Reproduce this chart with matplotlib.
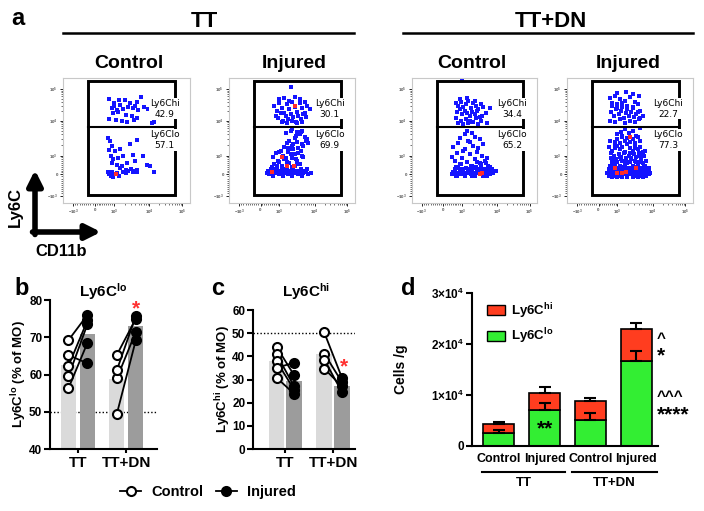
import numpy as np
import matplotlib.pyplot as plt
from matplotlib.patches import Rectangle, Patch
from matplotlib.lines import Line2D
from matplotlib.transforms import blended_transform_factory

plt.rcParams.update({
    "font.family": "Liberation Sans",
    "font.weight": "bold",
    "axes.labelweight": "bold",
    "axes.titleweight": "bold",
    "mathtext.fontset": "custom",
    "mathtext.rm": "Liberation Sans:bold",
    "mathtext.bf": "Liberation Sans:bold",
    "mathtext.it": "Liberation Sans:bold",
    "mathtext.default": "bf",
})

# =============================================================================
# DATA - panel a (FACS dots, display units 0-100 inside each plot)
# =============================================================================
tt_ctrl_x = [36.5, 40.4, 44.9, 48.8, 52.8, 56.7, 61.2, 63.8, 38.3, 42.8, 47.5, 51.5, 55.4, 59.3, 67.2,
             39.1, 43.6, 49.6, 54.1, 58.5, 36.5, 41.7, 46.2, 50.7, 56.2, 69.8, 71.7, 40.2, 44.4, 58.0,
             35.7, 37.0, 38.3, 36.5, 41.0, 44.9, 52.8, 58.0, 37.5, 39.1, 43.0, 47.5, 55.4, 38.3, 42.3,
             46.2, 50.1, 56.7, 62.7, 66.4, 44.9, 49.6, 53.3, 58.0, 68.5, 71.7,
             35.7, 36.5, 37.5, 38.6, 39.6, 42.3, 43.8, 47.5, 49.6, 51.5, 54.9, 56.7, 58.5, 37.5, 39.1, 41.0]
tt_ctrl_y = [83.2, 80.0, 78.7, 82.1, 80.0, 77.9, 84.8, 76.8, 76.0, 74.7, 75.2, 76.8, 76.0, 74.7, 75.2,
             72.0, 72.5, 70.7, 69.3, 68.0, 67.2, 66.7, 65.3, 64.5, 66.7, 64.0, 64.5, 77.9, 82.1, 81.1,
             52.0, 49.3, 45.3, 42.7, 41.3, 43.2, 47.5, 50.7, 37.9, 35.2, 36.0, 37.3, 38.7, 32.0, 30.7,
             29.3, 32.0, 33.3, 37.3, 30.7, 28.0, 26.7, 27.2, 26.1, 29.3, 24.5,
             24.5, 23.5, 22.4, 25.1, 23.5, 24.0, 21.9, 25.1, 24.0, 25.6, 24.5, 25.3, 25.1, 21.3, 20.8, 22.9]
tt_ctrl_red_x = [41.5]
tt_ctrl_red_y = [23.2]

tt_inj_x = [36, 38, 40, 42, 44, 46, 48, 50, 52, 54, 56, 58, 60, 62,
            37, 39, 41, 43, 45, 47, 49, 51, 53, 55, 57, 59, 61,
            40, 44, 48, 52, 56, 60, 42, 46, 50, 54, 58, 49, 64,
            30, 32, 34, 35, 37, 38, 40, 41, 43, 44, 46, 47, 49, 50, 52, 53, 55, 56, 58, 59, 61, 63, 65,
            33, 36, 39, 42, 45, 48, 51, 54, 57, 60, 62, 31,
            34, 36, 38, 40, 42, 44, 46, 48, 50, 52, 54, 56, 58,
            35, 37, 39, 41, 43, 45, 47, 49, 51, 53, 55, 57, 59,
            38, 42, 46, 50, 54, 40, 44, 48, 52,
            44, 46, 48, 50, 52, 54, 56, 58, 60, 62, 45, 49, 53, 57, 61, 47, 51, 55, 59, 63, 50, 54, 58]
tt_inj_y = [78, 74, 80, 76, 72, 79, 75, 81, 77, 73, 80, 76, 72, 78,
            70, 68, 72, 66, 70, 67, 71, 69, 65, 70, 67, 71, 69,
            83, 84, 82, 85, 83, 81, 65, 64, 66, 64, 65, 93, 75,
            24, 23, 25, 22, 24, 26, 23, 25, 22, 24, 26, 23, 25, 22, 24, 26, 23, 25, 22, 24, 25, 23, 24,
            27, 27, 26, 27, 27, 26, 27, 26, 27, 26, 27, 26,
            29, 31, 28, 33, 30, 35, 29, 32, 36, 30, 34, 31, 38,
            37, 40, 34, 42, 38, 36, 41, 39, 43, 35, 40, 42, 37,
            30, 28, 33, 29, 31, 41, 35, 43, 39,
            45, 48, 50, 46, 52, 49, 55, 47, 53, 51, 56, 58, 54, 57, 50, 44, 47, 44, 46, 48, 59, 57, 58]
tt_inj_red_x = [42, 45.8, 51.5, 52, 34.4]
tt_inj_red_y = [36.8, 29.3, 29.9, 77.3, 24.5]

dn_ctrl_x = [35, 37, 39, 41, 43, 45, 47, 49, 51, 53, 55, 57, 36, 38, 40, 42, 44, 46, 48, 50, 52, 54,
             35, 39, 43, 47, 51, 55, 59, 62, 37, 41, 45, 49, 53, 38, 44, 50, 56, 60, 46, 40,
             32, 33, 35, 36, 38, 39, 41, 42, 44, 45, 47, 48, 50, 51, 53, 54, 56, 57, 59, 60, 62, 63, 65, 67,
             34, 37, 40, 43, 46, 49, 52, 55, 58, 61, 64, 36, 42, 48, 54, 60,
             32, 34, 36, 38, 40, 42, 44, 46, 48, 50, 52, 54, 56, 58, 60,
             33, 37, 41, 45, 49, 53, 57, 61, 35, 39, 43, 47, 51, 55, 59, 38, 42, 46, 50, 54, 44, 48, 52, 62]
dn_ctrl_y = [80, 78, 81, 77, 79, 82, 76, 80, 78, 75, 79, 77, 73, 75, 71, 74, 72, 70, 73, 71, 74, 69,
             68, 66, 67, 65, 68, 66, 72, 76, 64, 63, 64, 65, 63, 83, 84, 82, 70, 64, 66, 99,
             23, 25, 22, 24, 26, 23, 25, 22, 24, 26, 23, 25, 22, 24, 26, 23, 25, 22, 24, 26, 23, 25, 24, 26,
             27, 28, 27, 28, 27, 28, 27, 28, 27, 28, 27, 22, 23, 22, 23, 22,
             37, 34, 40, 31, 36, 43, 33, 39, 30, 35, 41, 32, 38, 34, 36,
             45, 48, 42, 50, 46, 44, 47, 30, 29, 31, 28, 30, 29, 31, 32, 52, 55, 49, 53, 51, 58, 56, 33, 29]
dn_ctrl_red_x = [54.7, 56]
dn_ctrl_red_y = [23.5, 24]

dn_inj_x = [34, 36, 38, 40, 42, 44, 46, 48, 50, 52, 54, 56, 58, 35, 37, 39, 41, 43, 45, 47, 49, 51, 53, 55, 57,
            34, 38, 42, 46, 50, 54, 58, 36, 40, 44, 48, 52, 56, 40, 47, 52, 57, 60,
            32, 33, 34, 35, 36, 37, 38, 39, 40, 41, 42, 43, 44, 45, 46, 47, 48, 49, 50, 51, 52, 53, 54,
            55, 56, 57, 58, 59, 60, 61, 62, 63, 64, 65, 66,
            33, 35, 37, 39, 41, 43, 45, 47, 49, 51, 53, 55, 57, 59, 61, 63, 65, 36, 40, 44, 48, 52, 56, 60,
            34, 36, 38, 40, 42, 44, 46, 48, 50, 52, 54, 56, 58, 60, 62,
            35, 37, 39, 41, 43, 45, 47, 49, 51, 53, 55, 57, 59, 61,
            36, 38, 40, 42, 44, 46, 48, 50, 52, 54, 56, 58, 60,
            38, 40, 42, 44, 46, 48, 50, 52, 54, 56, 58,
            40, 43, 46, 49, 52, 55, 58, 33, 34, 35, 36,
            37, 41, 45, 49, 53, 57, 61, 65, 39, 43, 47, 51, 55, 59, 63,
            50, 54, 58, 62, 46, 42, 38, 44]
dn_inj_y = [84, 80, 86, 79, 83, 77, 82, 78, 85, 76, 81, 79, 74, 73, 70, 75, 71, 74, 68, 72, 70, 73, 69, 71, 67,
            66, 65, 67, 64, 66, 65, 68, 78, 76, 80, 75, 77, 73, 88, 89, 87, 86, 70,
            24, 22, 25, 23, 26, 24, 22, 25, 23, 26, 24, 22, 25, 23, 26, 24, 22, 25, 23, 26, 24, 22, 25,
            23, 26, 24, 22, 25, 23, 26, 24, 22, 25, 23, 24,
            27, 28, 27, 28, 27, 28, 27, 28, 27, 28, 27, 28, 27, 28, 27, 28, 27, 21, 21, 21, 21, 21, 21, 21,
            30, 32, 31, 33, 30, 34, 31, 32, 33, 30, 34, 31, 33, 32, 30,
            36, 38, 35, 39, 37, 40, 36, 38, 35, 39, 37, 40, 36, 38,
            42, 44, 46, 43, 45, 41, 47, 44, 42, 46, 43, 45, 41,
            49, 51, 48, 53, 50, 52, 49, 51, 48, 53, 50,
            55, 57, 59, 56, 58, 54, 60, 45, 50, 40, 35,
            29, 28, 29, 28, 29, 28, 29, 28, 33, 35, 34, 36, 33, 35, 34,
            40, 44, 38, 42, 50, 37, 47, 54]
dn_inj_red_x = [50, 38, 47, 43.4, 55, 40]
dn_inj_red_y = [53, 28, 25, 24, 28, 24]

gate_hi = ["42.9", "30.1", "34.4", "22.7"]
gate_lo = ["57.1", "69.9", "65.2", "77.3"]
flow_tick_labels = [r"$-10^3$", "0", r"$10^3$", r"$10^4$", r"$10^5$"]

# =============================================================================
# DATA - panels b, c (% of MO)
# =============================================================================
groups = ["TT", "TT+DN"]
lo_tt_ctrl = [69.2, 65.2, 62.3, 59.5, 56.3]
lo_tt_inj = [76.0, 63.0, 74.5, 73.5, 68.5]
lo_dn_ctrl = [49.5, 59.0, 61.2, 65.3]
lo_dn_inj = [69.3, 71.5, 75.8, 75.0]
lo_bars = [62.5, 71.0, 58.8, 73.0]

hi_tt_ctrl = [44.1, 40.9, 37.9, 35.0, 30.8]
hi_tt_inj = [31.8, 27.0, 25.6, 37.3, 23.8]
hi_dn_ctrl = [50.3, 41.2, 38.6, 34.7]
hi_dn_inj = [30.8, 28.9, 24.6, 27.0]
hi_bars = [37.8, 29.2, 41.2, 27.0]

# =============================================================================
# DATA - panel d (cells / g)
# =============================================================================
d_labels = ["Control", "Injured", "Control", "Injured"]
d_lo = [2570, 7040, 5070, 16600]
d_hi = [1710, 3420, 3730, 6360]
d_lo_err = [530, 1460, 1430, 1950]
d_tot_err = [460, 1040, 600, 1140]

# =============================================================================
# STYLE
# =============================================================================
W, H = 704, 511
LIGHT = "#dadada"
DARK = "#9c9c9c"
RED = "#ff3d1f"
GREEN = "#33ee33"
STAR_RED = "#ff3030"


def rect(l, t, r, b):
    return [l / W, 1 - b / H, (r - l) / W, (b - t) / H]


fig = plt.figure(figsize=(W / 100, H / 100), dpi=100)

# overlay in pixel coordinates for headers / panel letters
ov = fig.add_axes([0, 0, 1, 1], zorder=-1)
ov.set_xlim(0, W)
ov.set_ylim(H, 0)
ov.axis("off")

# =============================================================================
# PANEL a
# =============================================================================
FX = [8, 25, 40, 68, 94]
FY = [6, 23, 38, 66, 91]


def minor_positions(t):
    out = []
    for a, b in [(t[2], t[3]), (t[3], t[4])]:
        out += [a + (b - a) * np.log10(k) for k in range(2, 10)]
    out += [t[1] + (t[2] - t[1]) * k / 10 for k in range(1, 10)]
    out += [t[1] - (t[1] - t[0]) * k / 10 for k in range(1, 10)]
    return out


flow_sets = [
    (63, 190, tt_ctrl_x, tt_ctrl_y, tt_ctrl_red_x, tt_ctrl_red_y),
    (229, 355, tt_inj_x, tt_inj_y, tt_inj_red_x, tt_inj_red_y),
    (412, 537, dn_ctrl_x, dn_ctrl_y, dn_ctrl_red_x, dn_ctrl_red_y),
    (567, 693, dn_inj_x, dn_inj_y, dn_inj_red_x, dn_inj_red_y),
]
for i, (l, r, xs, ys, rx, ry) in enumerate(flow_sets):
    ax = fig.add_axes(rect(l, 78, r, 203))
    ax.set_xlim(0, 100)
    ax.set_ylim(0, 100)
    ax.scatter(xs, ys, s=6, marker="s", color="#1414ff", linewidths=0, zorder=2)
    ax.scatter(rx, ry, s=6, marker="s", color="#ff2a2a", linewidths=0, zorder=2)
    ax.add_patch(Rectangle((20, 6.5), 68.5, 91.2, fill=False, lw=2.1, ec="black", zorder=3))
    ax.plot([20, 88.5], [61, 61], color="black", lw=1.5, zorder=3)
    ax.text(80, 75.5, "Ly6Chi\n" + gate_hi[i], ha="center", va="center", fontsize=6.5,
            family="DejaVu Sans", fontweight="normal", linespacing=1.3, zorder=4,
            bbox=dict(fc="white", ec="none", pad=0.6))
    ax.text(80, 50.5, "Ly6Clo\n" + gate_lo[i], ha="center", va="center", fontsize=6.5,
            family="DejaVu Sans", fontweight="normal", linespacing=1.3, zorder=4,
            bbox=dict(fc="white", ec="none", pad=0.6))
    for s in ax.spines.values():
        s.set_color("#c8c8c8")
        s.set_linewidth(0.8)
    ax.set_xticks(FX)
    ax.set_yticks(FY)
    ax.set_xticklabels(flow_tick_labels)
    ax.set_yticklabels(flow_tick_labels)
    ax.set_xticks(minor_positions(FX), minor=True)
    ax.set_yticks(minor_positions(FY), minor=True)
    ax.tick_params(which="major", length=2.2, width=0.6, labelsize=3.2, labelcolor="#555555", pad=1.5)
    ax.tick_params(which="minor", length=1.2, width=0.4)

ov.text(18, 25, "a", fontsize=17, ha="center", va="baseline")
ov.text(204, 27, "TT", fontsize=16, ha="center", va="baseline")
ov.text(551, 27, "TT+DN", fontsize=16, ha="center", va="baseline")
ov.plot([63, 354], [33, 33], color="black", lw=1.8)
ov.plot([403, 693], [33, 33], color="black", lw=1.8)
for xc, txt in [(129, "Control"), (294, "Injured"), (472, "Control"), (628, "Injured")]:
    ov.text(xc, 68, txt, fontsize=14, ha="center", va="baseline")

# Ly6C / CD11b arrows
ov.annotate("", xy=(35, 170), xytext=(35, 234.5),
            arrowprops=dict(arrowstyle="-|>,head_length=0.9,head_width=0.45", lw=4, color="black",
                            shrinkA=0, shrinkB=0))
ov.annotate("", xy=(101, 232), xytext=(32.5, 232),
            arrowprops=dict(arrowstyle="-|>,head_length=0.9,head_width=0.45", lw=4, color="black",
                            shrinkA=0, shrinkB=0))
ov.text(15, 207, "Ly6C", fontsize=12, rotation=90, ha="center", va="center")
ov.text(61, 251, "CD11b", fontsize=12, ha="center", va="center")


# =============================================================================
# PANELS b, c
# =============================================================================
def paired_panel(box, pad, ylim, yticks, pos, width, bars, ctrls, injs, ylabel, star_xy, lab_x):
    ax = fig.add_axes(rect(*box))
    ax.set_ylim(*ylim)
    ax.set_xlim(pos[0] - pad[0], pos[3] + pad[1])
    ax.axhline(50, ls=(0, (1, 1.5)), color="black", lw=1.0, zorder=0.5)
    ax.bar(pos, bars, width=width, color=[LIGHT, DARK, LIGHT, DARK], zorder=1)
    for g, (cvals, ivals) in enumerate(zip(ctrls, injs)):
        pc, pi = pos[2 * g], pos[2 * g + 1]
        for c, v in zip(cvals, ivals):
            ax.plot([pc, pi], [c, v], color="black", lw=1.3, zorder=3)
        ax.plot([pc] * len(cvals), cvals, "o", ms=6.5, mfc="white", mec="black", mew=1.5, zorder=4)
        ax.plot([pi] * len(ivals), ivals, "o", ms=6.5, mfc="black", mec="black", mew=1.5, zorder=4)
    ax.text(star_xy[0], star_xy[1], "*", color=STAR_RED, fontsize=15, ha="center", va="center")
    for s in ["top", "right"]:
        ax.spines[s].set_visible(False)
    for s in ["left", "bottom"]:
        ax.spines[s].set_linewidth(1.5)
    ax.set_yticks(yticks)
    ax.set_xticks([(pos[0] + pos[1]) / 2, (pos[2] + pos[3]) / 2])
    ax.set_xticklabels(groups, fontsize=11)
    ax.tick_params(axis="y", length=4, width=1.5, labelsize=8.5, pad=1.5)
    ax.tick_params(axis="x", length=3, width=1.5, pad=2)
    ax.set_ylabel(ylabel, fontsize=9.5)
    ax.yaxis.set_label_coords(lab_x, 0.5)
    return ax


ax_b = paired_panel((50, 300, 157, 449), (0.97, 1.11), (40, 80), [40, 50, 60, 70, 80],
                    [0, 1, 2.55, 3.55], 0.79, lo_bars, [lo_tt_ctrl, lo_dn_ctrl], [lo_tt_inj, lo_dn_inj],
                    r"Ly6C$^{lo}$ (% of MO)", (3.55, 77.5), -0.195)
ax_c = paired_panel((253, 310, 355, 449), (1.33, 0.74), (0, 60), [0, 10, 20, 30, 40, 50, 60],
                    [0, 1, 2.7, 3.7], 0.88, hi_bars, [hi_tt_ctrl, hi_dn_ctrl], [hi_tt_inj, hi_dn_inj],
                    r"Ly6C$^{hi}$ (% of MO)", (3.8, 35.5), -0.2)

ov.text(22, 295, "b", fontsize=17, ha="center", va="baseline")
ov.text(218, 295, "c", fontsize=17, ha="center", va="baseline")
ov.text(408, 295, "d", fontsize=17, ha="center", va="baseline")
ov.text(103, 297, r"Ly6C$^{lo}$", fontsize=11, ha="center", va="baseline")
ov.text(306, 297, r"Ly6C$^{hi}$", fontsize=11, ha="center", va="baseline")

leg_handles = [Line2D([], [], color="black", lw=1.3, marker="o", ms=6.5, mfc="white", mec="black", mew=1.5),
               Line2D([], [], color="black", lw=1.3, marker="o", ms=6.5, mfc="black", mec="black", mew=1.5)]
fig.legend(leg_handles, ["Control", "Injured"], loc="center", bbox_to_anchor=(208 / W, 1 - 492 / H),
           ncol=2, frameon=False, fontsize=10.5, handlelength=1.4, handletextpad=0.7, columnspacing=0.9)

# =============================================================================
# PANEL d
# =============================================================================
ax_d = fig.add_axes(rect(472, 293, 658, 446))
xd = np.arange(len(d_lo))
d_tot = np.array(d_lo) + np.array(d_hi)
ax_d.bar(xd, d_lo, width=0.67, color=GREEN, edgecolor="black", lw=1.2, zorder=2)
ax_d.bar(xd, d_hi, bottom=d_lo, width=0.67, color=RED, edgecolor="black", lw=1.2, zorder=2)
ax_d.errorbar(xd, d_tot, yerr=[np.zeros(4), d_tot_err], fmt="none", ecolor="black", elinewidth=1.5,
              capsize=4.5, capthick=1.5, zorder=3)
ax_d.errorbar(xd, d_lo, yerr=[np.zeros(4), d_lo_err], fmt="none", ecolor="black", elinewidth=1.5,
              capsize=4.5, capthick=1.5, zorder=3)
ax_d.set_xlim(-0.58, 3.47)
ax_d.set_ylim(0, 30000)
ax_d.set_yticks([0, 10000, 20000, 30000])
ax_d.set_yticklabels(["0", "1×10$^4$", "2×10$^4$", "3×10$^4$"])
ax_d.set_xticks(xd)
ax_d.set_xticklabels(d_labels, fontsize=9)
ax_d.tick_params(axis="x", length=0, pad=5)
ax_d.tick_params(axis="y", length=4, width=1.5, labelsize=8.5, pad=2)
for s in ["top", "right"]:
    ax_d.spines[s].set_visible(False)
for s in ["left", "bottom"]:
    ax_d.spines[s].set_linewidth(1.5)
ax_d.set_ylabel("Cells /g", fontsize=10)
ax_d.yaxis.set_label_coords(-0.344, 0.5)

tr = blended_transform_factory(ax_d.transData, ax_d.transAxes)
ax_d.plot([-0.36, 1.45], [-0.17, -0.17], color="black", lw=1.5, transform=tr, clip_on=False)
ax_d.plot([1.6, 3.45], [-0.17, -0.17], color="black", lw=1.5, transform=tr, clip_on=False)
ax_d.text(0.55, -0.245, groups[0], transform=tr, fontsize=9.5, ha="center", va="center")
ax_d.text(2.52, -0.245, groups[1], transform=tr, fontsize=9.5, ha="center", va="center")

ax_d.text(1, 3300, "**", fontsize=15, ha="center", va="center", zorder=4)
ax_d.text(3.45, 19700, "^", fontsize=11, ha="left", va="bottom")
ax_d.text(3.45, 19500, "*", fontsize=15, ha="left", va="top")
ax_d.text(3.45, 8200, "^^^", fontsize=11, ha="left", va="bottom")
ax_d.text(3.45, 8000, "****", fontsize=15, ha="left", va="top")

ax_d.legend(handles=[Patch(fc=RED, ec="black", lw=1.0), Patch(fc=GREEN, ec="black", lw=1.0)],
            labels=[r"Ly6C$^{hi}$", r"Ly6C$^{lo}$"], loc="upper left", bbox_to_anchor=(0.04, 1.0),
            frameon=False, fontsize=9.5, handlelength=1.3, handleheight=0.8, labelspacing=0.45,
            borderpad=0.1, handletextpad=0.5)

fig.savefig("out.png", dpi=100)
